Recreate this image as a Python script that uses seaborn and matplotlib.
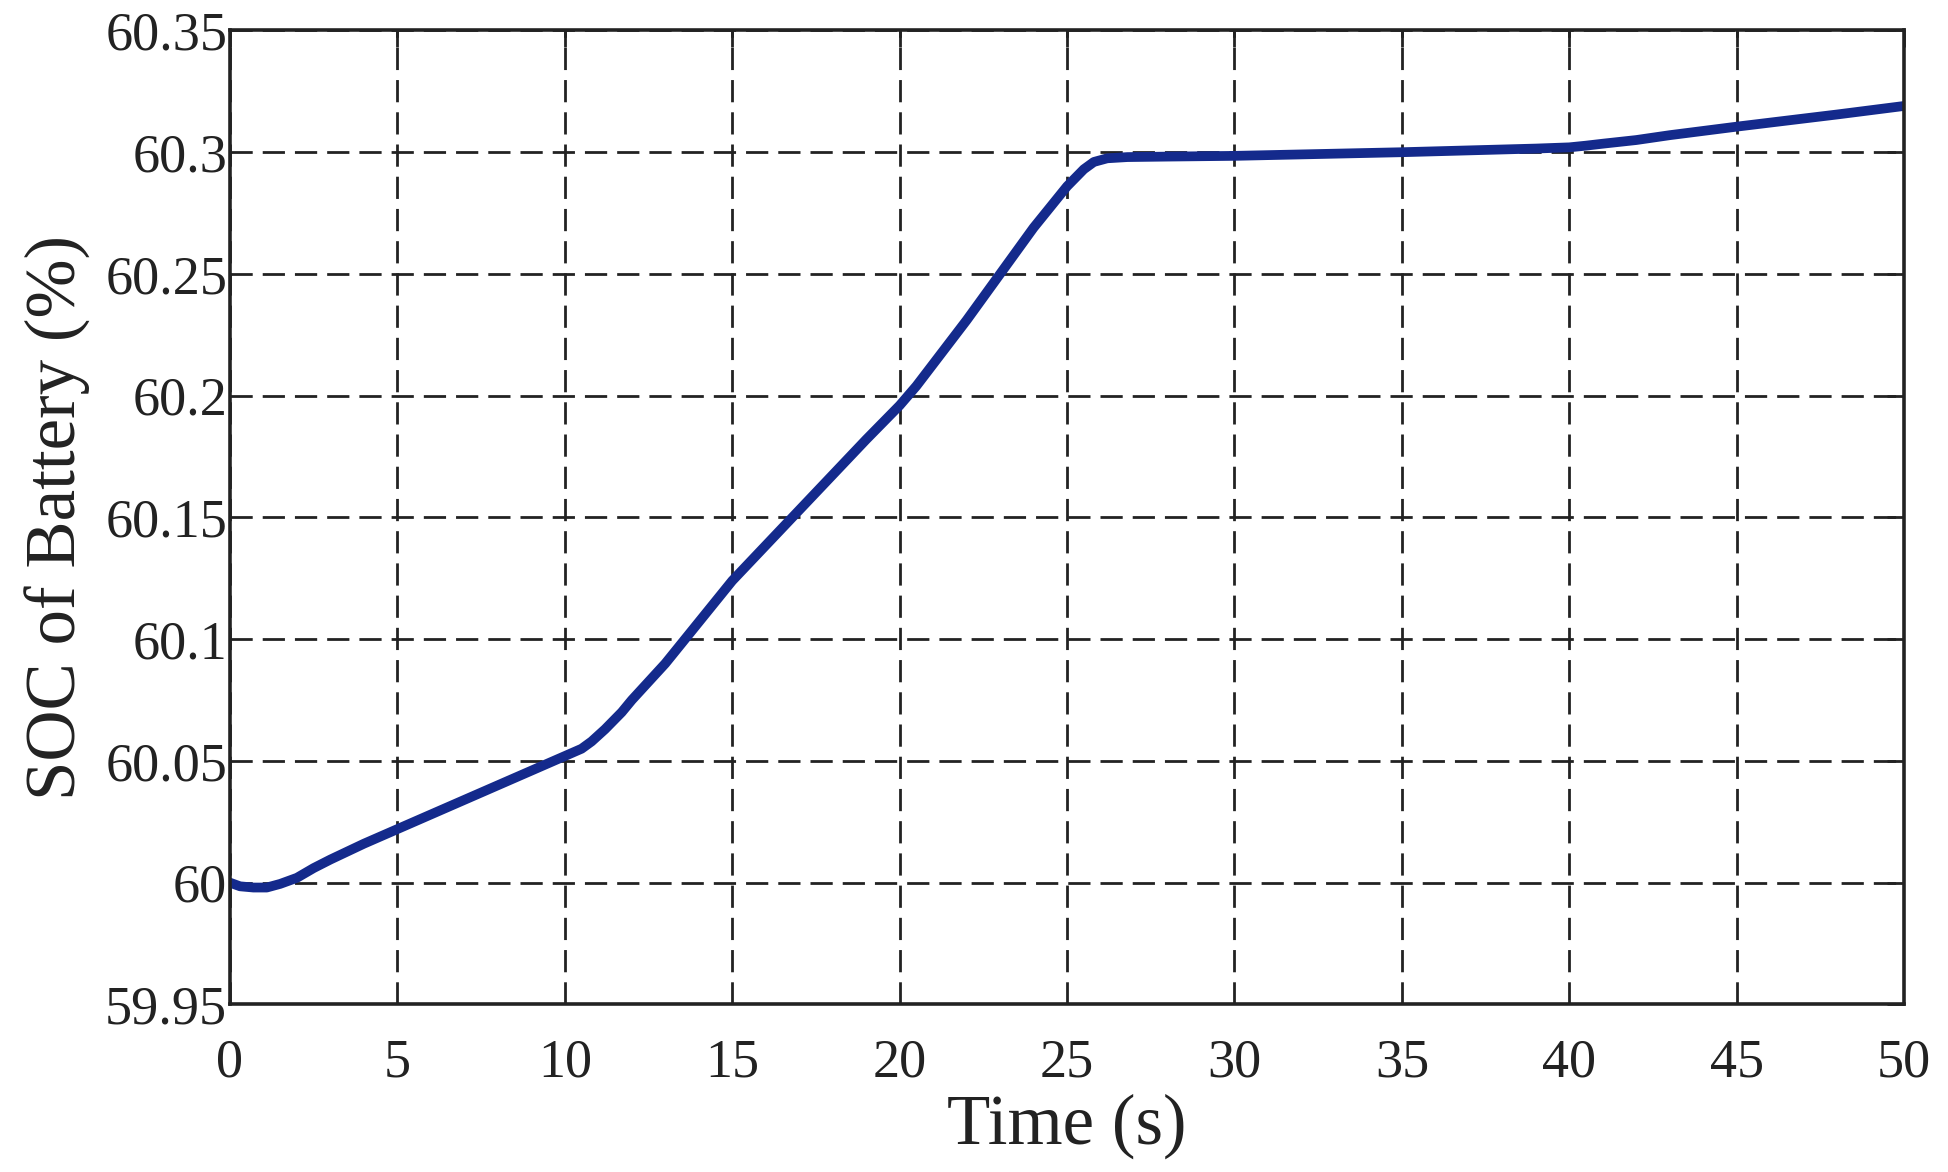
import pandas as pd
import seaborn as sns
import matplotlib.pyplot as plt

# values
time_s = [0, 0.3, 0.7, 1.1, 1.5, 2, 2.5, 3, 4, 5, 7, 9, 10, 10.5, 10.8, 11.2, 11.7, 12,
          13, 15, 17, 19, 20, 20.5, 21, 22, 24, 25, 25.5, 25.8, 26.2, 26.8, 28, 30, 35,
          39, 40, 40.5, 41, 42, 43, 45, 48, 50]
soc = [60.000, 59.9985, 59.998, 59.998, 59.9995, 60.002, 60.006, 60.0095, 60.016, 60.022,
       60.034, 60.046, 60.052, 60.055, 60.058, 60.063, 60.070, 60.075,
       60.090, 60.124, 60.153, 60.182, 60.196, 60.204, 60.213, 60.231, 60.269, 60.286,
       60.293, 60.296, 60.2975, 60.298, 60.2982, 60.2985, 60.300,
       60.3015, 60.302, 60.3027, 60.3035, 60.305, 60.307, 60.3105, 60.3155, 60.319]
x_ticks = [0, 5, 10, 15, 20, 25, 30, 35, 40, 45, 50]
y_ticks = [59.95, 60, 60.05, 60.1, 60.15, 60.2, 60.25, 60.3, 60.35]
y_labels = ["59.95", "60", "60.05", "60.1", "60.15", "60.2", "60.25", "60.3", "60.35"]

df = pd.DataFrame({"Time": time_s, "SOC": soc})

sns.set_style("white")
plt.rcParams["font.family"] = ["Liberation Serif", "DejaVu Serif"]

fig, ax = plt.subplots(figsize=(19.49, 11.72), dpi=100)
fig.subplots_adjust(left=0.118, right=0.977, top=0.974, bottom=0.143)

sns.lineplot(data=df, x="Time", y="SOC", ax=ax, color="#142a8c", linewidth=7,
             solid_capstyle="round", solid_joinstyle="round")

ax.set_xlim(0, 50)
ax.set_ylim(59.95, 60.35)
ax.set_xticks(x_ticks)
ax.set_xticklabels([str(t) for t in x_ticks])
ax.set_yticks(y_ticks)
ax.set_yticklabels(y_labels)

ax.grid(True, color="#222222", linestyle=(0, (8, 3.6)), linewidth=2)
for s in ax.spines.values():
    s.set_color("#222222")
    s.set_linewidth(2.6)
ax.tick_params(direction="in", length=12, width=2, colors="#222222",
               labelsize=39, top=True, right=True)
ax.tick_params(axis="y", pad=2)
ax.tick_params(axis="x", pad=24)
ax.set_xlabel("Time (s)", fontsize=51, labelpad=4, color="#222222")
ax.set_ylabel("SOC of Battery (%)", fontsize=51, labelpad=10, color="#222222")

fig.savefig("out.png", dpi=100)
